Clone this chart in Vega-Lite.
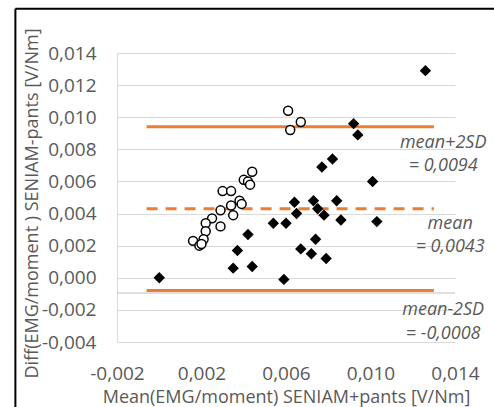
{
  "$schema": "https://vega.github.io/schema/vega-lite/v6.json",
  "width": 338,
  "height": 289,
  "autosize": {"type": "none"},
  "padding": {"left": 117, "top": 53, "right": 39, "bottom": 65},
  "background": "white",
  "config": {
    "locale": {"number": {"decimal": ",", "thousands": ".", "grouping": [3], "currency": ["", " €"], "minus": "-"}},
    "view": {"stroke": null},
    "font": "Open Sans",
    "axis": {
      "labelColor": "#595959",
      "titleColor": "#595959",
      "labelFontSize": 19,
      "titleFontSize": 18,
      "titleFontWeight": "normal",
      "labelFont": "Open Sans",
      "titleFont": "Open Sans",
      "labelOverlap": false,
      "labelFlush": false
    }
  },
  "datasets": {
    "points": [
      {"x": 0.0000, "y": 0.0000, "series": "B"},
      {"x": 0.0037, "y": 0.0017, "series": "B"},
      {"x": 0.0035, "y": 0.0006, "series": "B"},
      {"x": 0.0042, "y": 0.0027, "series": "B"},
      {"x": 0.0044, "y": 0.0007, "series": "B"},
      {"x": 0.0059, "y": -0.0001, "series": "B"},
      {"x": 0.0054, "y": 0.0034, "series": "B"},
      {"x": 0.0060, "y": 0.0034, "series": "B"},
      {"x": 0.0064, "y": 0.0047, "series": "B"},
      {"x": 0.0065, "y": 0.0040, "series": "B"},
      {"x": 0.0073, "y": 0.0048, "series": "B"},
      {"x": 0.0075, "y": 0.0043, "series": "B"},
      {"x": 0.0078, "y": 0.0039, "series": "B"},
      {"x": 0.0084, "y": 0.0048, "series": "B"},
      {"x": 0.0086, "y": 0.0036, "series": "B"},
      {"x": 0.0103, "y": 0.0035, "series": "B"},
      {"x": 0.0067, "y": 0.0018, "series": "B"},
      {"x": 0.0074, "y": 0.0024, "series": "B"},
      {"x": 0.0072, "y": 0.0015, "series": "B"},
      {"x": 0.0079, "y": 0.0012, "series": "B"},
      {"x": 0.0077, "y": 0.0069, "series": "B"},
      {"x": 0.0082, "y": 0.0074, "series": "B"},
      {"x": 0.0092, "y": 0.0096, "series": "B"},
      {"x": 0.0094, "y": 0.0089, "series": "B"},
      {"x": 0.0101, "y": 0.0060, "series": "B"},
      {"x": 0.0126, "y": 0.0129, "series": "B"},
      {"x": 0.0061, "y": 0.0104, "series": "A"},
      {"x": 0.0067, "y": 0.0097, "series": "A"},
      {"x": 0.0062, "y": 0.0092, "series": "A"},
      {"x": 0.0044, "y": 0.0066, "series": "A"},
      {"x": 0.0040, "y": 0.0061, "series": "A"},
      {"x": 0.0042, "y": 0.0060, "series": "A"},
      {"x": 0.0043, "y": 0.0058, "series": "A"},
      {"x": 0.0030, "y": 0.0054, "series": "A"},
      {"x": 0.0034, "y": 0.0054, "series": "A"},
      {"x": 0.0038, "y": 0.0048, "series": "A"},
      {"x": 0.0034, "y": 0.0045, "series": "A"},
      {"x": 0.0039, "y": 0.0046, "series": "A"},
      {"x": 0.0035, "y": 0.0039, "series": "A"},
      {"x": 0.0029, "y": 0.0042, "series": "A"},
      {"x": 0.0025, "y": 0.0037, "series": "A"},
      {"x": 0.0022, "y": 0.0034, "series": "A"},
      {"x": 0.0029, "y": 0.0032, "series": "A"},
      {"x": 0.0022, "y": 0.0029, "series": "A"},
      {"x": 0.0021, "y": 0.0024, "series": "A"},
      {"x": 0.0016, "y": 0.0023, "series": "A"},
      {"x": 0.0019, "y": 0.0020, "series": "A"},
      {"x": 0.0020, "y": 0.0021, "series": "A"}
    ],
    "lines": [
      {"name": "mean+2SD", "y": 0.0094, "x1": -0.0006, "x2": 0.0130, "dashed": false},
      {"name": "mean", "y": 0.0043, "x1": -0.0006, "x2": 0.0130, "dashed": true},
      {"name": "mean-2SD", "y": -0.0008, "x1": -0.0006, "x2": 0.0130, "dashed": false}
    ],
    "labels": [
      {"x": 0.01344, "y": 0.00842, "text": "mean+2SD"},
      {"x": 0.01344, "y": 0.00699, "text": "= 0,0094"},
      {"x": 0.01377, "y": 0.00338, "text": "mean"},
      {"x": 0.01377, "y": 0.00189, "text": "= 0,0043"},
      {"x": 0.01344, "y": -0.00203, "text": "mean-2SD"},
      {"x": 0.01344, "y": -0.00352, "text": "= -0,0008"}
    ],
    "one": [{}]
  },
  "layer": [
    {
      "data": {"name": "points"},
      "transform": [{"filter": "datum.series === 'A'"}],
      "mark": {"type": "point", "shape": "circle", "size": 0, "opacity": 0},
      "encoding": {
        "x": {
          "field": "x", "type": "quantitative",
          "scale": {"domain": [-0.002, 0.014], "nice": false, "zero": false},
          "axis": {
            "values": [-0.002, 0.002, 0.006, 0.010, 0.014],
            "format": ".3f",
            "title": "Mean(EMG/moment) SENIAM+pants [V/Nm]",
            "grid": false, "domain": false, "ticks": false,
            "labelPadding": 22, "labelOverlap": false, "labelBound": false, "labelFlush": false,
            "titleY": 55, "titleBaseline": "middle"
          }
        },
        "y": {
          "field": "y", "type": "quantitative",
          "scale": {"domain": [-0.004, 0.014], "nice": false, "zero": false},
          "axis": {
            "tickCount": 9,
            "format": ".3f",
            "title": "Diff(EMG/moment ) SENIAM-pants [V/Nm]",
            "grid": true, "gridColor": "#D9D9D9", "gridWidth": 1,
            "domain": true, "domainColor": "#D9D9D9", "domainWidth": 1,
            "ticks": false,
            "labelPadding": 21, "labelOverlap": false, "labelBound": false, "labelFlush": false,
            "titleX": -85, "titleY": 150, "titleAlign": "center", "titleBaseline": "middle"
          }
        }
      }
    },
    {
      "data": {"name": "one"},
      "mark": {"type": "rule", "color": "black", "strokeWidth": 2},
      "encoding": {
        "x": {"datum": -0.00681, "type": "quantitative"},
        "y": {"datum": 0.016755, "type": "quantitative"},
        "y2": {"datum": -0.01}
      }
    },
    {
      "data": {"name": "one"},
      "mark": {"type": "rule", "color": "black", "strokeWidth": 2},
      "encoding": {
        "x": {"datum": -0.00681, "type": "quantitative"},
        "x2": {"datum": 0.02},
        "y": {"datum": 0.016755, "type": "quantitative"}
      }
    },
    {
      "data": {"name": "one"},
      "mark": {"type": "rule", "color": "#BFBFBF", "strokeWidth": 1},
      "encoding": {"y": {"datum": -0.00095, "type": "quantitative"}}
    },
    {
      "data": {"name": "lines"},
      "transform": [{"filter": "!datum.dashed"}],
      "mark": {"type": "rule", "color": "#ED7D31", "strokeWidth": 3},
      "encoding": {
        "x": {"field": "x1", "type": "quantitative"},
        "x2": {"field": "x2"},
        "y": {"field": "y", "type": "quantitative"}
      }
    },
    {
      "data": {"name": "lines"},
      "transform": [{"filter": "datum.dashed"}],
      "mark": {"type": "rule", "color": "#ED7D31", "strokeWidth": 3, "strokeDash": [11, 8]},
      "encoding": {
        "x": {"field": "x1", "type": "quantitative"},
        "x2": {"field": "x2"},
        "y": {"field": "y", "type": "quantitative"}
      }
    },
    {
      "data": {"name": "points"},
      "transform": [{"filter": "datum.series === 'A'"}],
      "mark": {"type": "point", "shape": "circle", "size": 80, "filled": true, "fill": "white", "stroke": "black", "strokeWidth": 1.5, "opacity": 1, "fillOpacity": 1},
      "encoding": {
        "x": {"field": "x", "type": "quantitative"},
        "y": {"field": "y", "type": "quantitative"}
      }
    },
    {
      "data": {"name": "points"},
      "transform": [{"filter": "datum.series === 'B'"}],
      "mark": {"type": "point", "shape": "diamond", "size": 130, "filled": true, "color": "black", "opacity": 1},
      "encoding": {
        "x": {"field": "x", "type": "quantitative"},
        "y": {"field": "y", "type": "quantitative"}
      }
    },
    {
      "data": {"name": "labels"},
      "mark": {"type": "text", "font": "Open Sans", "fontSize": 18, "fontStyle": "italic", "color": "#595959", "align": "center", "baseline": "middle"},
      "encoding": {
        "x": {"field": "x", "type": "quantitative"},
        "y": {"field": "y", "type": "quantitative"},
        "text": {"field": "text"}
      }
    }
  ]
}
